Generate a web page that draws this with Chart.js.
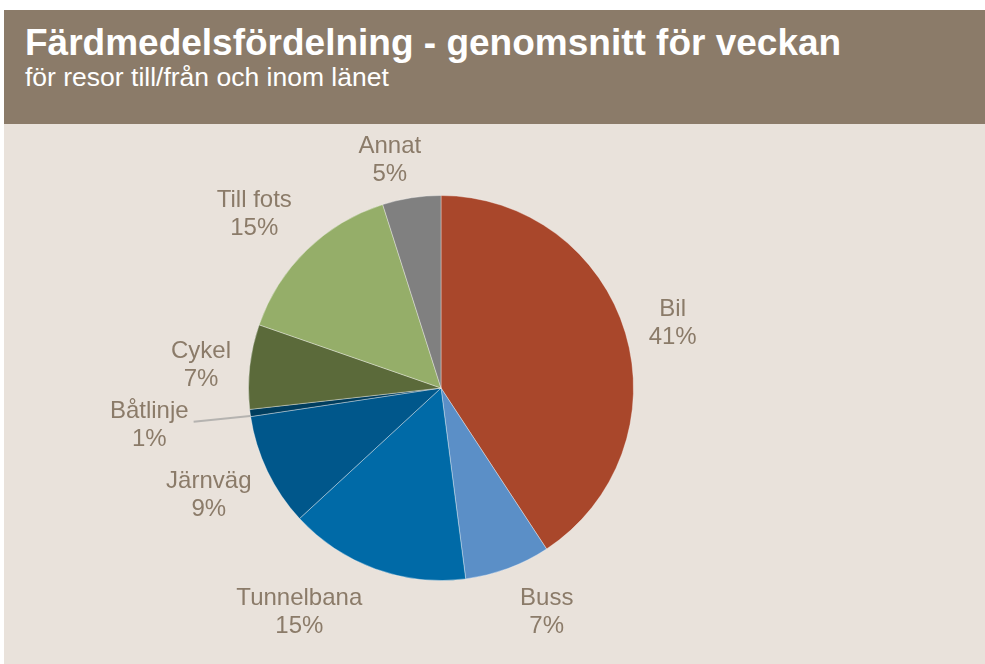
<!DOCTYPE html>
<html>
<head>
<meta charset="utf-8">
<script src="https://cdn.jsdelivr.net/npm/chart.js@4"></script>
<style>
  body { margin: 0; background: #fff; font-family: "Liberation Sans", Arial, sans-serif; }
  #header { position: absolute; left: 4px; top: 10px; width: 981px; height: 114px; background: #8B7B69; }
  #title { position: absolute; left: 21px; top: 14px; color: #fff; font-weight: bold; font-size: 37px; line-height: 37px; white-space: nowrap; }
  #subtitle { position: absolute; left: 21px; top: 54px; color: #fff; font-size: 26.5px; line-height: 26.5px; white-space: nowrap; }
  #wrap { position: absolute; left: 4px; top: 124px; width: 981px; height: 540px; background: #E9E2DB; }
</style>
</head>
<body>
<div id="header">
  <div id="title">Färdmedelsfördelning - genomsnitt för veckan</div>
  <div id="subtitle">för resor till/från och inom länet</div>
</div>
<div id="wrap"><canvas id="pieChart"></canvas></div>
<script>
const modes = ['Bil', 'Buss', 'Tunnelbana', 'Järnväg', 'Båtlinje', 'Cykel', 'Till fots', 'Annat'];
const shares = [40.8, 7.2, 15.2, 9.5, 0.6, 7.1, 14.8, 4.9];
const shareLabels = ['41%', '7%', '15%', '9%', '1%', '7%', '15%', '5%'];
const sliceColors = ['#A9472B', '#5B8FC7', '#006AA7', '#00578B', '#003D5E', '#5B6A3A', '#95AE69', '#808080'];

// small hand nudges so labels sit where the original placed them
const nudges = {
  'Bil': [6, 3], 'Buss': [23, 2], 'Tunnelbana': [-48, 1], 'Järnväg': [-3, 5],
  'Båtlinje': [-43, 7], 'Cykel': [0, 4], 'Till fots': [-13, -3], 'Annat': [-14, 7]
};
const leaderFor = ['Båtlinje'];

const outsideLabels = {
  id: 'outsideLabels',
  afterDatasetsDraw(chart) {
    const ctx = chart.ctx;
    const arcs = chart.getDatasetMeta(0).data;
    ctx.save();
    ctx.font = '24px "Liberation Sans", Arial, sans-serif';
    ctx.fillStyle = '#8B7B69';
    ctx.textAlign = 'center';
    ctx.textBaseline = 'middle';
    arcs.forEach((arc, i) => {
      const mid = (arc.startAngle + arc.endAngle) / 2;
      const dx = Math.cos(mid), dy = Math.sin(mid);
      const halfW = Math.max(ctx.measureText(modes[i]).width, ctx.measureText(shareLabels[i]).width) / 2;
      const halfH = 26;
      const reach = arc.outerRadius + 19;
      const n = nudges[modes[i]] || [0, 0];
      const cx = arc.x + reach * dx + dx * halfW + n[0];
      const cy = arc.y + reach * dy + dy * halfH + n[1];
      ctx.fillText(modes[i], cx, cy - 14);
      ctx.fillText(shareLabels[i], cx, cy + 14);
      if (leaderFor.includes(modes[i])) {
        ctx.strokeStyle = '#B5B3B0';
        ctx.lineWidth = 2;
        ctx.beginPath();
        ctx.moveTo(cx + halfW + 5, cy - 4);
        ctx.lineTo(arc.x + arc.outerRadius * dx, arc.y + arc.outerRadius * dy + 3);
        ctx.stroke();
      }
    });
    ctx.restore();
  }
};

new Chart(document.getElementById('pieChart').getContext('2d'), {
  type: 'pie',
  data: {
    labels: modes,
    datasets: [{
      data: shares,
      backgroundColor: sliceColors,
      borderColor: 'rgba(255,255,255,0.35)',
      borderWidth: 1
    }]
  },
  options: {
    responsive: true,
    maintainAspectRatio: false,
    animation: false,
    layout: { padding: { left: 244, right: 351, top: 71, bottom: 83 } },
    plugins: {
      legend: { display: false },
      tooltip: { enabled: false }
    }
  },
  plugins: [outsideLabels]
});
</script>
</body>
</html>
